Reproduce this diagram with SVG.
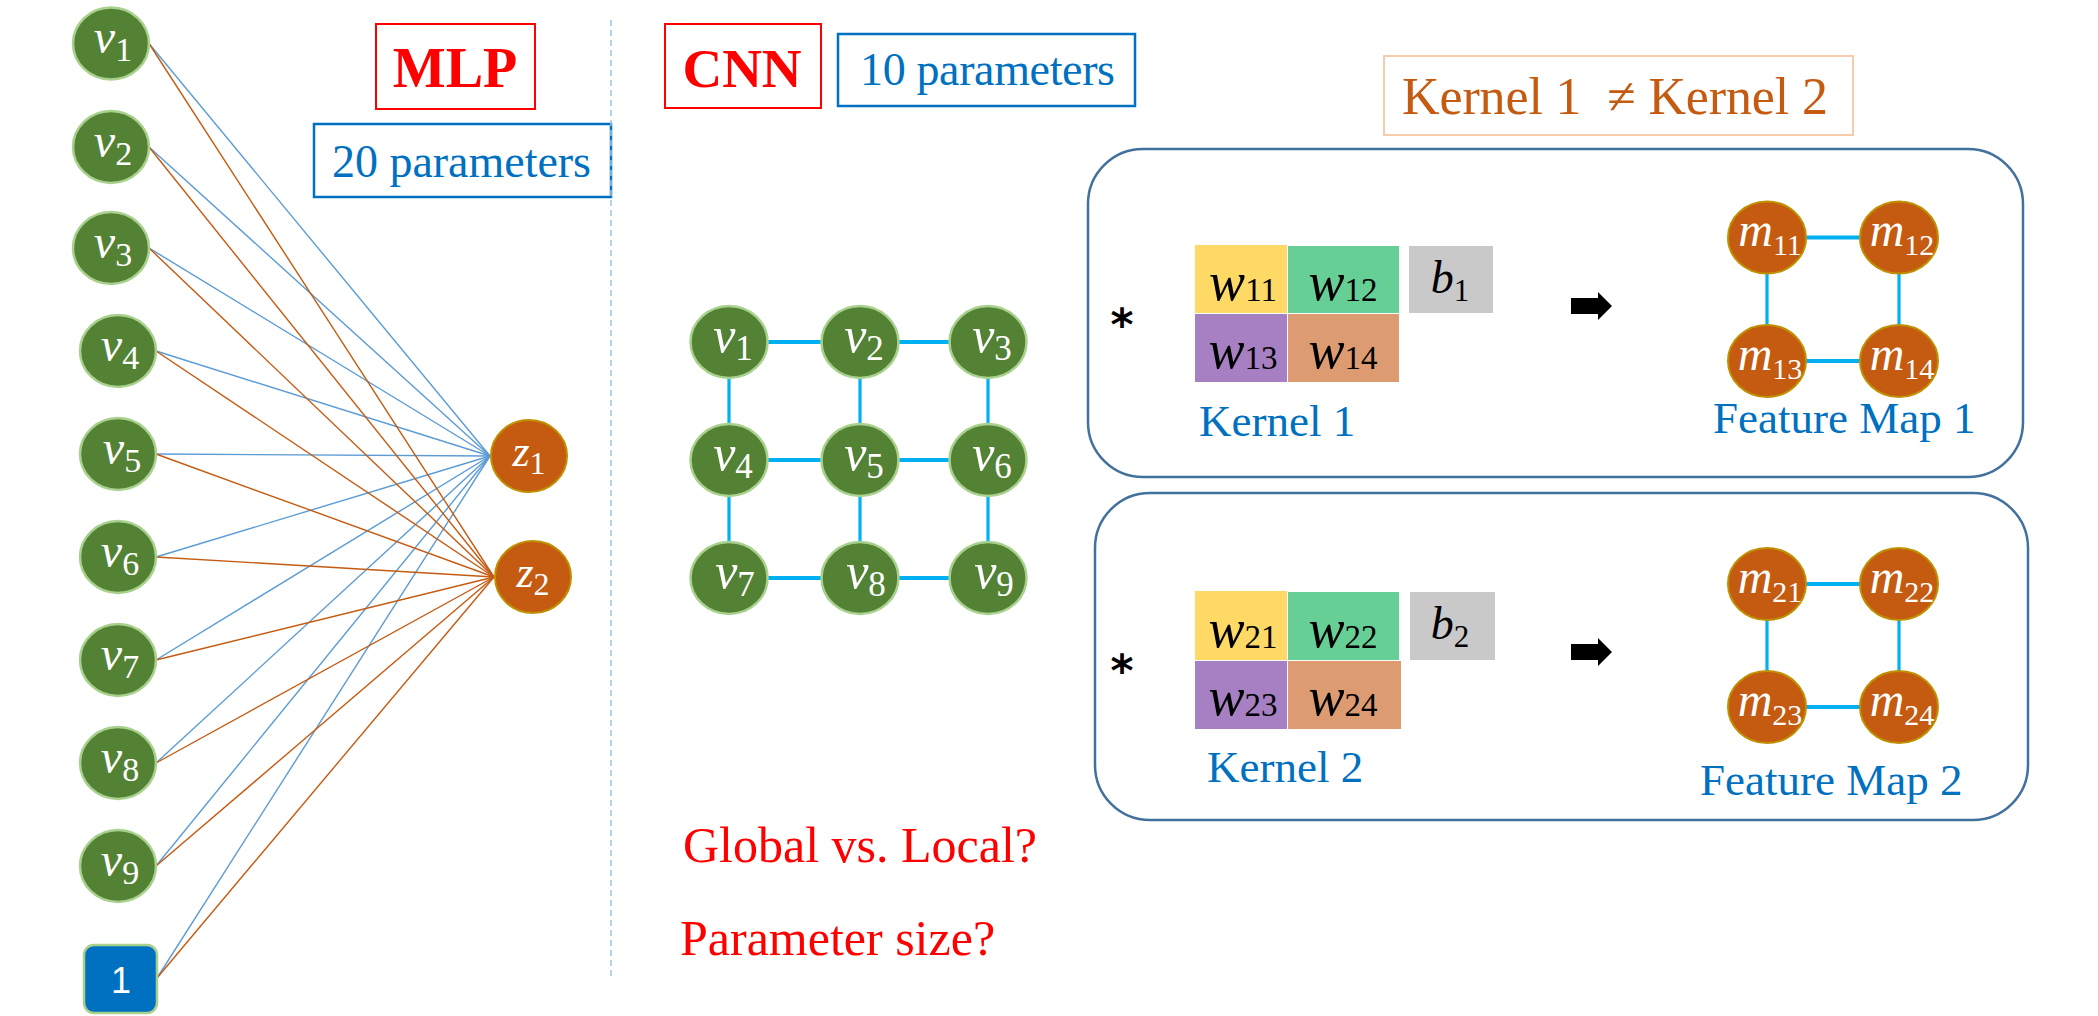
<svg xmlns="http://www.w3.org/2000/svg" width="2098" height="1016" viewBox="0 0 2098 1016">
<style>
.vn{fill:#548235;stroke:#a9d18e;stroke-width:2.5}
.zn{fill:#c55a11;stroke:#bf9000;stroke-width:2}
.mt{font-family:"Liberation Serif",serif;fill:#fff;text-anchor:middle}
.mk{font-family:"Liberation Serif",serif;fill:#000;text-anchor:middle}
.it{font-style:italic}
.lb{stroke:#5b9bd5;stroke-width:1.4}
.lo{stroke:#c55a11;stroke-width:1.4}
.gh{stroke:#00b0f0;stroke-width:4}
.gv{stroke:#00b0f0;stroke-width:3.2}
.blue{font-family:"Liberation Serif",serif;fill:#0070c0}
.red{font-family:"Liberation Serif",serif;fill:#ff0000}
.panel{fill:none;stroke:#41719c;stroke-width:2.5}
.ast{font-family:"DejaVu Sans",sans-serif;font-weight:bold;fill:#000;text-anchor:middle}
</style>

<!-- headers -->
<g id="mlp-title">
<rect x="376" y="24" width="159" height="85" fill="none" stroke="#ff0000" stroke-width="2"/>
<text x="455" y="87" class="red" font-size="56" font-weight="bold" text-anchor="middle">MLP</text>
</g>
<g id="mlp-params">
<rect x="314" y="124" width="297" height="73" fill="none" stroke="#0070c0" stroke-width="2.5"/>
<text x="332" y="177" class="blue" font-size="46" textLength="259">20 parameters</text>
</g>
<g id="cnn-title">
<rect x="665" y="24" width="156" height="84" fill="none" stroke="#ff0000" stroke-width="2"/>
<text x="742" y="87" class="red" font-size="55" font-weight="bold" text-anchor="middle">CNN</text>
</g>
<g id="cnn-params">
<rect x="838" y="34" width="297" height="72" fill="none" stroke="#0070c0" stroke-width="2.5"/>
<text x="860" y="85" class="blue" font-size="46" textLength="255">10 parameters</text>
</g>
<g id="kernel-neq">
<rect x="1384" y="56" width="469" height="79" fill="none" stroke="#f8cbad" stroke-width="2"/>
<text x="1402" y="114" font-family="'Liberation Serif',serif" font-size="52" fill="#c55a11" xml:space="preserve" textLength="426">Kernel 1  ≠ Kernel 2</text>
</g>

<line id="divider" x1="611" y1="20" x2="611" y2="980" stroke="#9dc3e6" stroke-width="1.5" stroke-dasharray="6 4"/>

<!-- connectors -->
<g id="connectors">
<g id="mlp-blue">
<line class="lb" x1="149" y1="43.5" x2="490" y2="456"/>
<line class="lb" x1="149" y1="147" x2="490" y2="456"/>
<line class="lb" x1="149" y1="248" x2="490" y2="456"/>
<line class="lb" x1="156" y1="351" x2="490" y2="456"/>
<line class="lb" x1="156" y1="454" x2="490" y2="456"/>
<line class="lb" x1="156" y1="557" x2="490" y2="456"/>
<line class="lb" x1="156" y1="660" x2="490" y2="456"/>
<line class="lb" x1="156" y1="763" x2="490" y2="456"/>
<line class="lb" x1="156" y1="866" x2="490" y2="456"/>
<line class="lb" x1="157" y1="978" x2="490" y2="456"/>
</g>
<g id="mlp-orange">
<line class="lo" x1="149" y1="43.5" x2="494" y2="577"/>
<line class="lo" x1="149" y1="147" x2="494" y2="577"/>
<line class="lo" x1="149" y1="248" x2="494" y2="577"/>
<line class="lo" x1="156" y1="351" x2="494" y2="577"/>
<line class="lo" x1="156" y1="454" x2="494" y2="577"/>
<line class="lo" x1="156" y1="557" x2="494" y2="577"/>
<line class="lo" x1="156" y1="660" x2="494" y2="577"/>
<line class="lo" x1="156" y1="763" x2="494" y2="577"/>
<line class="lo" x1="156" y1="866" x2="494" y2="577"/>
<line class="lo" x1="157" y1="978" x2="494" y2="577"/>
</g>
<g id="cnn-grid">
<line class="gh" x1="729" y1="342" x2="988" y2="342"/>
<line class="gh" x1="729" y1="460" x2="988" y2="460"/>
<line class="gh" x1="729" y1="578" x2="988" y2="578"/>
<line class="gv" x1="729" y1="342" x2="729" y2="578"/>
<line class="gv" x1="860" y1="342" x2="860" y2="578"/>
<line class="gv" x1="988" y1="342" x2="988" y2="578"/>
</g>
<g id="fmap1-edges">
<line class="gh" x1="1767" y1="237.5" x2="1899" y2="237.5" stroke-width="5"/>
<line class="gh" x1="1767" y1="361" x2="1899" y2="361" stroke-width="5"/>
<line class="gv" x1="1767" y1="237.5" x2="1767" y2="361"/>
<line class="gv" x1="1899" y1="237.5" x2="1899" y2="361"/>
</g>
<g id="fmap2-edges">
<line class="gh" x1="1767" y1="584" x2="1899" y2="584" stroke-width="5"/>
<line class="gh" x1="1767" y1="707" x2="1899" y2="707" stroke-width="5"/>
<line class="gv" x1="1767" y1="584" x2="1767" y2="707"/>
<line class="gv" x1="1899" y1="584" x2="1899" y2="707"/>
</g>
</g>

<!-- MLP input nodes -->
<g id="mlp-v1"><ellipse class="vn" cx="111" cy="43.5" rx="38" ry="36"/><text x="113" y="53" class="mt" font-size="48"><tspan class="it">v</tspan><tspan font-size="34" dy="8">1</tspan></text></g>
<g id="mlp-v2"><ellipse class="vn" cx="111" cy="147" rx="38" ry="36"/><text x="113" y="156.5" class="mt" font-size="48"><tspan class="it">v</tspan><tspan font-size="34" dy="8">2</tspan></text></g>
<g id="mlp-v3"><ellipse class="vn" cx="111" cy="248" rx="38" ry="36"/><text x="113" y="257.5" class="mt" font-size="48"><tspan class="it">v</tspan><tspan font-size="34" dy="8">3</tspan></text></g>
<g id="mlp-v4"><ellipse class="vn" cx="118" cy="351" rx="38" ry="36"/><text x="120" y="360.5" class="mt" font-size="48"><tspan class="it">v</tspan><tspan font-size="34" dy="8">4</tspan></text></g>
<g id="mlp-v5"><ellipse class="vn" cx="118" cy="454" rx="38" ry="36"/><text x="122" y="463.5" class="mt" font-size="48"><tspan class="it">v</tspan><tspan font-size="34" dy="8">5</tspan></text></g>
<g id="mlp-v6"><ellipse class="vn" cx="118" cy="557" rx="38" ry="36"/><text x="120" y="566.5" class="mt" font-size="48"><tspan class="it">v</tspan><tspan font-size="34" dy="8">6</tspan></text></g>
<g id="mlp-v7"><ellipse class="vn" cx="118" cy="660" rx="38" ry="36"/><text x="120" y="669.5" class="mt" font-size="48"><tspan class="it">v</tspan><tspan font-size="34" dy="8">7</tspan></text></g>
<g id="mlp-v8"><ellipse class="vn" cx="118" cy="763" rx="38" ry="36"/><text x="120" y="772.5" class="mt" font-size="48"><tspan class="it">v</tspan><tspan font-size="34" dy="8">8</tspan></text></g>
<g id="mlp-v9"><ellipse class="vn" cx="118" cy="866" rx="38" ry="36"/><text x="120" y="875.5" class="mt" font-size="48"><tspan class="it">v</tspan><tspan font-size="34" dy="8">9</tspan></text></g>
<g id="mlp-bias"><rect x="84" y="945" width="73" height="68" rx="10" fill="#0070c0" stroke="#a9d18e" stroke-width="2.5"/><text x="121" y="993" font-family="Liberation Sans,sans-serif" font-size="36" fill="#fff" text-anchor="middle">1</text></g>

<!-- MLP outputs -->
<g id="mlp-z1"><ellipse class="zn" cx="529" cy="456" rx="38" ry="36"/><text x="529" y="466" class="mt" font-size="44"><tspan class="it">z</tspan><tspan font-size="32" dy="8">1</tspan></text></g>
<g id="mlp-z2"><ellipse class="zn" cx="533" cy="577" rx="38" ry="36"/><text x="533" y="587" class="mt" font-size="44"><tspan class="it">z</tspan><tspan font-size="32" dy="8">2</tspan></text></g>

<!-- CNN grid nodes -->
<g id="cnn-v1"><ellipse class="vn" cx="729" cy="342" rx="38.5" ry="36"/><text x="733" y="352" class="mt" font-size="50"><tspan class="it">v</tspan><tspan font-size="35" dy="8">1</tspan></text></g>
<g id="cnn-v2"><ellipse class="vn" cx="860" cy="342" rx="38.5" ry="36"/><text x="864" y="352" class="mt" font-size="50"><tspan class="it">v</tspan><tspan font-size="35" dy="8">2</tspan></text></g>
<g id="cnn-v3"><ellipse class="vn" cx="988" cy="342" rx="38.5" ry="36"/><text x="992" y="352" class="mt" font-size="50"><tspan class="it">v</tspan><tspan font-size="35" dy="8">3</tspan></text></g>
<g id="cnn-v4"><ellipse class="vn" cx="729" cy="460" rx="38.5" ry="36"/><text x="733" y="470" class="mt" font-size="50"><tspan class="it">v</tspan><tspan font-size="35" dy="8">4</tspan></text></g>
<g id="cnn-v5"><ellipse class="vn" cx="860" cy="460" rx="38.5" ry="36"/><text x="864" y="470" class="mt" font-size="50"><tspan class="it">v</tspan><tspan font-size="35" dy="8">5</tspan></text></g>
<g id="cnn-v6"><ellipse class="vn" cx="988" cy="460" rx="38.5" ry="36"/><text x="992" y="470" class="mt" font-size="50"><tspan class="it">v</tspan><tspan font-size="35" dy="8">6</tspan></text></g>
<g id="cnn-v7"><ellipse class="vn" cx="729" cy="578" rx="38.5" ry="36"/><text x="735" y="588" class="mt" font-size="50"><tspan class="it">v</tspan><tspan font-size="35" dy="8">7</tspan></text></g>
<g id="cnn-v8"><ellipse class="vn" cx="860" cy="578" rx="38.5" ry="36"/><text x="866" y="588" class="mt" font-size="50"><tspan class="it">v</tspan><tspan font-size="35" dy="8">8</tspan></text></g>
<g id="cnn-v9"><ellipse class="vn" cx="988" cy="578" rx="38.5" ry="36"/><text x="994" y="588" class="mt" font-size="50"><tspan class="it">v</tspan><tspan font-size="35" dy="8">9</tspan></text></g>

<!-- Panel 1 -->
<g id="panel1">
<rect class="panel" x="1088" y="149" width="935" height="328" rx="55"/>
<text x="1122" y="340" class="ast" font-size="44">*</text>
</g>
<g id="kernel1">
<rect x="1195" y="245" width="92" height="68" fill="#ffd966"/>
<rect x="1288" y="246" width="111" height="67" fill="#66cf96"/>
<rect x="1195" y="314" width="92" height="68" fill="#a680c3"/>
<rect x="1288" y="314" width="111" height="68" fill="#dc9b70"/>
<text x="1243" y="300" class="mk" font-size="54"><tspan class="it">w</tspan><tspan font-size="33" dy="1">11</tspan></text>
<text x="1343" y="300" class="mk" font-size="54"><tspan class="it">w</tspan><tspan font-size="33" dy="1">12</tspan></text>
<text x="1243" y="368" class="mk" font-size="54"><tspan class="it">w</tspan><tspan font-size="33" dy="1">13</tspan></text>
<text x="1343" y="368" class="mk" font-size="54"><tspan class="it">w</tspan><tspan font-size="33" dy="1">14</tspan></text>
<text x="1199" y="436" class="blue" font-size="45">Kernel 1</text>
</g>
<g id="bias1">
<rect x="1409" y="246" width="84" height="67" fill="#c9c9c9"/>
<text x="1450" y="293" class="mk" font-size="46"><tspan class="it">b</tspan><tspan font-size="31" dy="8">1</tspan></text>
</g>
<path id="arrow1" d="M1571,298 H1598 V292 L1612,306 L1598,320 V314 H1571 Z" fill="#000"/>
<g id="fmap1">
<ellipse class="zn" cx="1767" cy="237.5" rx="39" ry="36"/>
<ellipse class="zn" cx="1899" cy="237.5" rx="39" ry="36"/>
<ellipse class="zn" cx="1767" cy="361" rx="39" ry="36"/>
<ellipse class="zn" cx="1899" cy="361" rx="39" ry="36"/>
<text x="1770" y="246" class="mt" font-size="48"><tspan class="it">m</tspan><tspan font-size="30" dy="9">11</tspan></text>
<text x="1902" y="246" class="mt" font-size="48"><tspan class="it">m</tspan><tspan font-size="30" dy="9">12</tspan></text>
<text x="1770" y="370" class="mt" font-size="48"><tspan class="it">m</tspan><tspan font-size="30" dy="9">13</tspan></text>
<text x="1902" y="370" class="mt" font-size="48"><tspan class="it">m</tspan><tspan font-size="30" dy="9">14</tspan></text>
<text x="1713" y="433" class="blue" font-size="45">Feature Map 1</text>
</g>

<!-- Panel 2 -->
<g id="panel2">
<rect class="panel" x="1095" y="493" width="933" height="327" rx="55"/>
<text x="1122" y="686" class="ast" font-size="44">*</text>
</g>
<g id="kernel2">
<rect x="1195" y="591" width="92" height="69" fill="#ffd966"/>
<rect x="1288" y="592" width="111" height="68" fill="#66cf96"/>
<rect x="1195" y="661" width="92" height="68" fill="#a680c3"/>
<rect x="1288" y="661" width="113" height="68" fill="#dc9b70"/>
<text x="1243" y="647" class="mk" font-size="54"><tspan class="it">w</tspan><tspan font-size="33" dy="1">21</tspan></text>
<text x="1343" y="647" class="mk" font-size="54"><tspan class="it">w</tspan><tspan font-size="33" dy="1">22</tspan></text>
<text x="1243" y="715" class="mk" font-size="54"><tspan class="it">w</tspan><tspan font-size="33" dy="1">23</tspan></text>
<text x="1343" y="715" class="mk" font-size="54"><tspan class="it">w</tspan><tspan font-size="33" dy="1">24</tspan></text>
<text x="1207" y="782" class="blue" font-size="45">Kernel 2</text>
</g>
<g id="bias2">
<rect x="1410" y="592" width="85" height="68" fill="#c9c9c9"/>
<text x="1450" y="639" class="mk" font-size="46"><tspan class="it">b</tspan><tspan font-size="31" dy="8">2</tspan></text>
</g>
<path id="arrow2" d="M1571,644 H1598 V638 L1612,652 L1598,666 V660 H1571 Z" fill="#000"/>
<g id="fmap2">
<ellipse class="zn" cx="1767" cy="584" rx="39" ry="36"/>
<ellipse class="zn" cx="1899" cy="584" rx="39" ry="36"/>
<ellipse class="zn" cx="1767" cy="707" rx="39" ry="36"/>
<ellipse class="zn" cx="1899" cy="707" rx="39" ry="36"/>
<text x="1770" y="593" class="mt" font-size="48"><tspan class="it">m</tspan><tspan font-size="30" dy="9">21</tspan></text>
<text x="1902" y="593" class="mt" font-size="48"><tspan class="it">m</tspan><tspan font-size="30" dy="9">22</tspan></text>
<text x="1770" y="716" class="mt" font-size="48"><tspan class="it">m</tspan><tspan font-size="30" dy="9">23</tspan></text>
<text x="1902" y="716" class="mt" font-size="48"><tspan class="it">m</tspan><tspan font-size="30" dy="9">24</tspan></text>
<text x="1700" y="795" class="blue" font-size="45">Feature Map 2</text>
</g>

<!-- questions -->
<g id="questions">
<text x="683" y="862" class="red" font-size="50">Global vs. Local?</text>
<text x="680" y="955" class="red" font-size="50">Parameter size?</text>
</g>
</svg>
